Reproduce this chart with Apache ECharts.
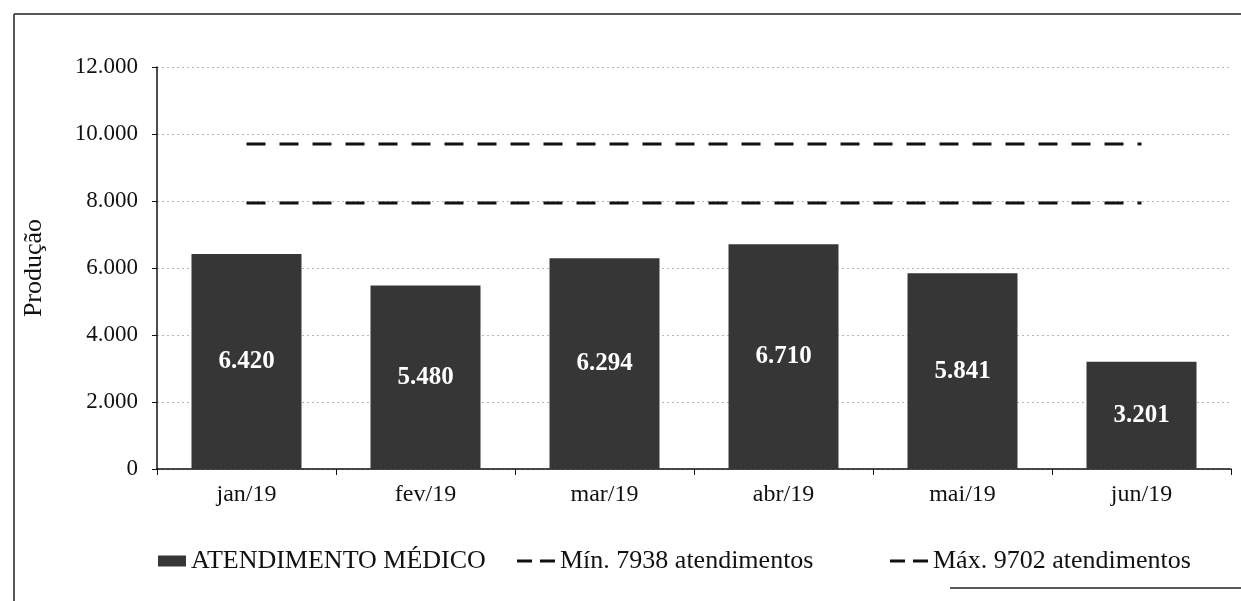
<!DOCTYPE html>
<html>
<head>
<meta charset="utf-8">
<script src="https://cdn.jsdelivr.net/npm/echarts@6/dist/echarts.min.js"></script>
<style>
html,body{margin:0;padding:0;background:#fff;}
#chart{width:1241px;height:601px;}
</style>
</head>
<body>
<div id="chart"></div>
<script>
const categories = ['jan/19', 'fev/19', 'mar/19', 'abr/19', 'mai/19', 'jun/19'];
const atendimentos = [6420, 5480, 6294, 6710, 5841, 3201];
const minValues = [7938, 7938, 7938, 7938, 7938, 7938];
const maxValues = [9702, 9702, 9702, 9702, 9702, 9702];
const seriesNames = ['ATENDIMENTO MÉDICO', 'Mín. 7938 atendimentos', 'Máx. 9702 atendimentos'];
const yAxisTitle = 'Produção';

const SERIF = '"Liberation Serif", "DejaVu Serif", serif';
function fmt(v) { return String(v).replace(/\B(?=(\d{3})+(?!\d))/g, '.'); }
const DASH_ICON = 'path://M0,0 H15 V3 H0 Z M23,0 H38 V3 H23 Z';

const chart = echarts.init(document.getElementById('chart'), null, {renderer: 'canvas'});
const legendText = {fontFamily: SERIF, fontSize: 26, color: '#111'};
chart.setOption({
  animation: false,
  backgroundColor: '#fff',
  grid: {left: 157, right: 10, top: 67, bottom: 132, containLabel: false},
  xAxis: {
    type: 'category',
    data: categories,
    axisLine: {lineStyle: {color: '#111', width: 1.5}},
    axisTick: {show: true, length: 6, lineStyle: {color: '#111'}},
    axisLabel: {fontFamily: SERIF, fontSize: 24, color: '#111', margin: 14}
  },
  yAxis: {
    type: 'value',
    min: 0, max: 12000, interval: 2000,
    name: yAxisTitle,
    nameLocation: 'middle',
    nameGap: 110,
    nameRotate: 90,
    nameTextStyle: {fontFamily: SERIF, fontSize: 26, color: '#111'},
    axisLine: {show: true, lineStyle: {color: '#111', width: 1.5}},
    axisTick: {show: true, length: 5, lineStyle: {color: '#111'}},
    axisLabel: {fontFamily: SERIF, fontSize: 23, color: '#111', margin: 19, formatter: fmt},
    splitLine: {show: true, lineStyle: {color: '#b5b5b5', type: [2, 3], width: 1}}
  },
  legend: [
    {left: 153, top: 543, itemWidth: 28, itemHeight: 11, icon: 'rect', textStyle: legendText,
     data: [seriesNames[0]]},
    {left: 512, top: 543, itemWidth: 38, itemHeight: 3, icon: DASH_ICON, textStyle: legendText,
     data: [seriesNames[1]]},
    {left: 885, top: 543, itemWidth: 38, itemHeight: 3, icon: DASH_ICON, textStyle: legendText,
     data: [seriesNames[2]]}
  ],
  series: [
    {
      name: seriesNames[0], type: 'bar', data: atendimentos, barWidth: 110,
      itemStyle: {color: '#363636'},
      label: {show: true, position: 'inside', color: '#fff', fontFamily: SERIF, fontWeight: 'bold', fontSize: 25, formatter: p => fmt(p.value)}
    },
    {
      name: seriesNames[1], type: 'line', data: minValues, symbol: 'none',
      lineStyle: {color: '#111', width: 3, type: [19, 14]}, itemStyle: {color: '#111'}
    },
    {
      name: seriesNames[2], type: 'line', data: maxValues, symbol: 'none',
      lineStyle: {color: '#111', width: 3, type: [19, 14]}, itemStyle: {color: '#111'}
    }
  ],
  graphic: [
    {type: 'line', shape: {x1: 14, y1: 14, x2: 14, y2: 601}, style: {stroke: '#222', lineWidth: 1.5}},
    {type: 'line', shape: {x1: 14, y1: 14, x2: 1241, y2: 14}, style: {stroke: '#222', lineWidth: 1.5}},
    {type: 'line', shape: {x1: 950, y1: 588, x2: 1241, y2: 588}, style: {stroke: '#222', lineWidth: 1.5}}
  ]
});
</script>
</body>
</html>
